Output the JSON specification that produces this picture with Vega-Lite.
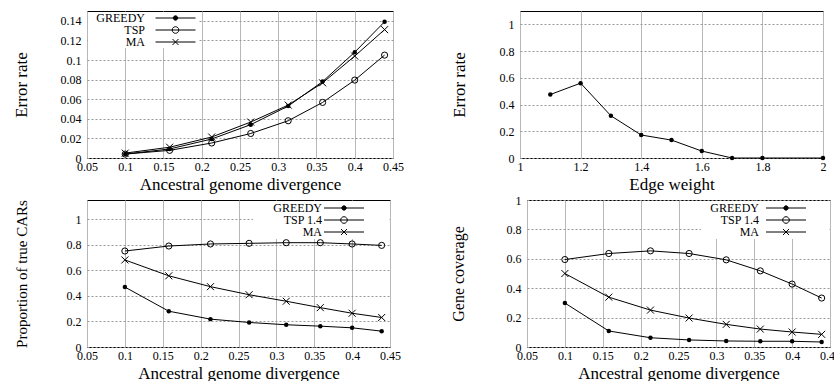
{
  "$schema": "https://vega.github.io/schema/vega-lite/v6.json",
  "autosize": {"type": "pad"},
  "padding": {"left": 11, "top": 10, "right": 2, "bottom": 0},
  "background": "white",
  "datasets": {
    "p1": [
      {"series": "GREEDY", "x": 0.1, "y": 0.004}, {"series": "GREEDY", "x": 0.158, "y": 0.0092}, {"series": "GREEDY", "x": 0.213, "y": 0.0194}, {"series": "GREEDY", "x": 0.264, "y": 0.034}, {"series": "GREEDY", "x": 0.313, "y": 0.053}, {"series": "GREEDY", "x": 0.358, "y": 0.078}, {"series": "GREEDY", "x": 0.4, "y": 0.108}, {"series": "GREEDY", "x": 0.439, "y": 0.139},
      {"series": "TSP", "x": 0.1, "y": 0.004}, {"series": "TSP", "x": 0.158, "y": 0.0078}, {"series": "TSP", "x": 0.213, "y": 0.0153}, {"series": "TSP", "x": 0.264, "y": 0.025}, {"series": "TSP", "x": 0.313, "y": 0.038}, {"series": "TSP", "x": 0.358, "y": 0.0567}, {"series": "TSP", "x": 0.4, "y": 0.0795}, {"series": "TSP", "x": 0.439, "y": 0.105},
      {"series": "MA", "x": 0.1, "y": 0.005}, {"series": "MA", "x": 0.158, "y": 0.011}, {"series": "MA", "x": 0.213, "y": 0.0214}, {"series": "MA", "x": 0.264, "y": 0.0367}, {"series": "MA", "x": 0.313, "y": 0.054}, {"series": "MA", "x": 0.358, "y": 0.0767}, {"series": "MA", "x": 0.4, "y": 0.104}, {"series": "MA", "x": 0.439, "y": 0.131}
    ],
    "p2": [
      {"series": "GREEDY", "x": 1.1, "y": 0.475}, {"series": "GREEDY", "x": 1.2, "y": 0.56}, {"series": "GREEDY", "x": 1.3, "y": 0.316}, {"series": "GREEDY", "x": 1.4, "y": 0.172}, {"series": "GREEDY", "x": 1.5, "y": 0.134}, {"series": "GREEDY", "x": 1.6, "y": 0.052}, {"series": "GREEDY", "x": 1.7, "y": 0}, {"series": "GREEDY", "x": 1.8, "y": 0}, {"series": "GREEDY", "x": 2.0, "y": 0}
    ],
    "p3": [
      {"series": "GREEDY", "x": 0.1, "y": 0.469}, {"series": "GREEDY", "x": 0.158, "y": 0.28}, {"series": "GREEDY", "x": 0.213, "y": 0.218}, {"series": "GREEDY", "x": 0.264, "y": 0.192}, {"series": "GREEDY", "x": 0.313, "y": 0.174}, {"series": "GREEDY", "x": 0.358, "y": 0.163}, {"series": "GREEDY", "x": 0.4, "y": 0.15}, {"series": "GREEDY", "x": 0.439, "y": 0.124},
      {"series": "TSP 1.4", "x": 0.1, "y": 0.751}, {"series": "TSP 1.4", "x": 0.158, "y": 0.79}, {"series": "TSP 1.4", "x": 0.213, "y": 0.806}, {"series": "TSP 1.4", "x": 0.264, "y": 0.811}, {"series": "TSP 1.4", "x": 0.313, "y": 0.816}, {"series": "TSP 1.4", "x": 0.358, "y": 0.816}, {"series": "TSP 1.4", "x": 0.4, "y": 0.806}, {"series": "TSP 1.4", "x": 0.439, "y": 0.795},
      {"series": "MA", "x": 0.1, "y": 0.681}, {"series": "MA", "x": 0.158, "y": 0.557}, {"series": "MA", "x": 0.213, "y": 0.472}, {"series": "MA", "x": 0.264, "y": 0.409}, {"series": "MA", "x": 0.313, "y": 0.358}, {"series": "MA", "x": 0.358, "y": 0.308}, {"series": "MA", "x": 0.4, "y": 0.264}, {"series": "MA", "x": 0.439, "y": 0.231}
    ],
    "p4": [
      {"series": "GREEDY", "x": 0.1, "y": 0.299}, {"series": "GREEDY", "x": 0.158, "y": 0.109}, {"series": "GREEDY", "x": 0.213, "y": 0.063}, {"series": "GREEDY", "x": 0.264, "y": 0.048}, {"series": "GREEDY", "x": 0.313, "y": 0.041}, {"series": "GREEDY", "x": 0.358, "y": 0.039}, {"series": "GREEDY", "x": 0.4, "y": 0.039}, {"series": "GREEDY", "x": 0.439, "y": 0.034},
      {"series": "TSP 1.4", "x": 0.1, "y": 0.595}, {"series": "TSP 1.4", "x": 0.158, "y": 0.636}, {"series": "TSP 1.4", "x": 0.213, "y": 0.654}, {"series": "TSP 1.4", "x": 0.264, "y": 0.636}, {"series": "TSP 1.4", "x": 0.313, "y": 0.593}, {"series": "TSP 1.4", "x": 0.358, "y": 0.518}, {"series": "TSP 1.4", "x": 0.4, "y": 0.428}, {"series": "TSP 1.4", "x": 0.439, "y": 0.333},
      {"series": "MA", "x": 0.1, "y": 0.5}, {"series": "MA", "x": 0.158, "y": 0.339}, {"series": "MA", "x": 0.213, "y": 0.251}, {"series": "MA", "x": 0.264, "y": 0.197}, {"series": "MA", "x": 0.313, "y": 0.154}, {"series": "MA", "x": 0.358, "y": 0.122}, {"series": "MA", "x": 0.4, "y": 0.102}, {"series": "MA", "x": 0.439, "y": 0.086}
    ]
  },
  "vconcat": [
    {
      "hconcat": [
        {
          "width": 306, "height": 147,
          "data": {"name": "p1"},
          "encoding": {
            "x": {"field": "x", "type": "quantitative", "scale": {"domain": [0.05, 0.45], "nice": false, "zero": false},
                  "axis": {"values": [0.05, 0.1, 0.15, 0.2, 0.25, 0.3, 0.35, 0.4, 0.45], "format": "~g", "title": "Ancestral genome divergence"}},
            "y": {"field": "y", "type": "quantitative", "scale": {"domain": [0, 0.15], "nice": false},
                  "axis": {"values": [0, 0.02, 0.04, 0.06, 0.08, 0.1, 0.12, 0.14], "format": "~g", "title": "Error rate", "titleFontSize": 17, "titlePadding": 30}}
          },
          "layer": [
            {"mark": {"type": "line", "strokeWidth": 1},
             "encoding": {"color": {"field": "series", "type": "nominal",
               "scale": {"domain": ["GREEDY", "TSP", "MA"], "range": ["black", "black", "black"]},
               "legend": {"orient": "top-left", "title": null, "offset": 1, "padding": 0, "fillColor": "white", "rowPadding": -5, "labelFontSize": 12, "symbolSize": 64,
                 "encode": {
                   "symbols": {"update": {
                     "shape": {"signal": "datum.value === 'GREEDY' ? 'M -21.875 0 M -5 0 L 5 0 M -0.55 0 A 0.55 0.55 0 1 0 0.55 0 A 0.55 0.55 0 1 0 -0.55 0 Z' : datum.value === 'MA' ? 'M -21.875 0 M -5 0 L 5 0 M -0.75 -0.75 L 0.75 0.75 M -0.75 0.75 L 0.75 -0.75' : 'M -21.875 0 M -5 0 L 5 0 M -0.825 0 A 0.825 0.825 0 1 0 0.825 0 A 0.825 0.825 0 1 0 -0.825 0 Z'"},
                     "fill": {"signal": "datum.value === 'GREEDY' ? 'black' : 'transparent'"},
                     "stroke": {"value": "black"}, "strokeWidth": {"value": 1}, "size": {"value": 64}, "x": {"value": 87.5}, "opacity": {"value": 1}}},
                   "labels": {"update": {"x": {"value": 57}, "align": {"value": "right"}}}
                 }}}}},
            {"transform": [{"filter": "datum.series === 'GREEDY'"}], "mark": {"type": "point", "shape": "circle", "filled": true, "size": 20, "color": "black", "opacity": 1}, "encoding": {}},
            {"transform": [{"filter": "datum.series !== 'GREEDY' && datum.series !== 'MA'"}], "mark": {"type": "point", "shape": "circle", "filled": false, "size": 38, "color": "black", "strokeWidth": 1, "opacity": 1}, "encoding": {}},
            {"transform": [{"filter": "datum.series === 'MA'"}], "mark": {"type": "point", "shape": "M -1 -1 L 1 1 M -1 1 L 1 -1", "filled": false, "size": 49, "color": "black", "strokeWidth": 1, "opacity": 1}, "encoding": {}}
          ]
        },
        {
          "width": 303, "height": 147,
          "data": {"name": "p2"},
          "encoding": {
            "x": {"field": "x", "type": "quantitative", "scale": {"domain": [1, 2], "nice": false, "zero": false},
                  "axis": {"values": [1, 1.2, 1.4, 1.6, 1.8, 2], "format": "~g", "title": "Edge weight"}},
            "y": {"field": "y", "type": "quantitative", "scale": {"domain": [0, 1.1], "nice": false},
                  "axis": {"values": [0, 0.2, 0.4, 0.6, 0.8, 1], "format": "~g", "title": "Error rate", "titleFontSize": 17, "titlePadding": 31}}
          },
          "layer": [
            {"mark": {"type": "line", "strokeWidth": 1, "color": "black"}, "encoding": {}},
            {"mark": {"type": "point", "filled": true, "opacity": 1, "color": "black", "size": 20, "shape": "circle"}, "encoding": {}}
          ]
        }
      ],
      "spacing": 45,
      "bounds": "full",
      "resolve": {"scale": {"color": "independent"}, "legend": {"color": "independent"}}
    },
    {
      "hconcat": [
        {
          "width": 303, "height": 147,
          "data": {"name": "p3"},
          "encoding": {
            "x": {"field": "x", "type": "quantitative", "scale": {"domain": [0.05, 0.45], "nice": false, "zero": false},
                  "axis": {"values": [0.05, 0.1, 0.15, 0.2, 0.25, 0.3, 0.35, 0.4, 0.45], "format": "~g", "title": "Ancestral genome divergence"}},
            "y": {"field": "y", "type": "quantitative", "scale": {"domain": [0, 1.15], "nice": false},
                  "axis": {"values": [0, 0.2, 0.4, 0.6, 0.8, 1], "format": "~g", "title": "Proportion of true CARs", "titleFontSize": 15, "titlePadding": 37, "titleLimit": 400}}
          },
          "layer": [
            {"mark": {"type": "line", "strokeWidth": 1},
             "encoding": {"color": {"field": "series", "type": "nominal",
               "scale": {"domain": ["GREEDY", "TSP 1.4", "MA"], "range": ["black", "black", "black"]},
               "legend": {"orient": "top-right", "title": null, "offset": 1, "padding": 1, "fillColor": "white", "rowPadding": -5, "labelFontSize": 12, "symbolSize": 64,
                 "encode": {
                   "symbols": {"update": {
                     "shape": {"signal": "datum.value === 'GREEDY' ? 'M -22.5 0 M 10.5 0 M -5 0 L 5 0 M -0.55 0 A 0.55 0.55 0 1 0 0.55 0 A 0.55 0.55 0 1 0 -0.55 0 Z' : datum.value === 'MA' ? 'M -22.5 0 M 10.5 0 M -5 0 L 5 0 M -0.75 -0.75 L 0.75 0.75 M -0.75 0.75 L 0.75 -0.75' : 'M -22.5 0 M 10.5 0 M -5 0 L 5 0 M -0.825 0 A 0.825 0.825 0 1 0 0.825 0 A 0.825 0.825 0 1 0 -0.825 0 Z'"},
                     "fill": {"signal": "datum.value === 'GREEDY' ? 'black' : 'transparent'"},
                     "stroke": {"value": "black"}, "strokeWidth": {"value": 1}, "size": {"value": 64}, "x": {"value": 90}, "opacity": {"value": 1}}},
                   "labels": {"update": {"x": {"value": 68}, "align": {"value": "right"}}}
                 }}}}},
            {"transform": [{"filter": "datum.series === 'GREEDY'"}], "mark": {"type": "point", "shape": "circle", "filled": true, "size": 20, "color": "black", "opacity": 1}, "encoding": {}},
            {"transform": [{"filter": "datum.series !== 'GREEDY' && datum.series !== 'MA'"}], "mark": {"type": "point", "shape": "circle", "filled": false, "size": 38, "color": "black", "strokeWidth": 1, "opacity": 1}, "encoding": {}},
            {"transform": [{"filter": "datum.series === 'MA'"}], "mark": {"type": "point", "shape": "M -1 -1 L 1 1 M -1 1 L 1 -1", "filled": false, "size": 49, "color": "black", "strokeWidth": 1, "opacity": 1}, "encoding": {}}
          ]
        },
        {
          "width": 303, "height": 147,
          "data": {"name": "p4"},
          "encoding": {
            "x": {"field": "x", "type": "quantitative", "scale": {"domain": [0.05, 0.45], "nice": false, "zero": false},
                  "axis": {"values": [0.05, 0.1, 0.15, 0.2, 0.25, 0.3, 0.35, 0.4, 0.45], "format": "~g", "title": "Ancestral genome divergence"}},
            "y": {"field": "y", "type": "quantitative", "scale": {"domain": [0, 1], "nice": false},
                  "axis": {"values": [0, 0.2, 0.4, 0.6, 0.8, 1], "format": "~g", "title": "Gene coverage", "titleFontSize": 16, "titlePadding": 40}}
          },
          "layer": [
            {"mark": {"type": "line", "strokeWidth": 1},
             "encoding": {"color": {"field": "series", "type": "nominal",
               "scale": {"domain": ["GREEDY", "TSP 1.4", "MA"], "range": ["black", "black", "black"]},
               "legend": {"orient": "top-right", "title": null, "offset": 1, "padding": 1, "fillColor": "white", "rowPadding": -5, "labelFontSize": 12, "symbolSize": 64,
                 "encode": {
                   "symbols": {"update": {
                     "shape": {"signal": "datum.value === 'GREEDY' ? 'M -21 0 M 10 0 M -5 0 L 5 0 M -0.55 0 A 0.55 0.55 0 1 0 0.55 0 A 0.55 0.55 0 1 0 -0.55 0 Z' : datum.value === 'MA' ? 'M -21 0 M 10 0 M -5 0 L 5 0 M -0.75 -0.75 L 0.75 0.75 M -0.75 0.75 L 0.75 -0.75' : 'M -21 0 M 10 0 M -5 0 L 5 0 M -0.825 0 A 0.825 0.825 0 1 0 0.825 0 A 0.825 0.825 0 1 0 -0.825 0 Z'"},
                     "fill": {"signal": "datum.value === 'GREEDY' ? 'black' : 'transparent'"},
                     "stroke": {"value": "black"}, "strokeWidth": {"value": 1}, "size": {"value": 64}, "x": {"value": 84}, "opacity": {"value": 1}}},
                   "labels": {"update": {"x": {"value": 57}, "align": {"value": "right"}}}
                 }}}}},
            {"transform": [{"filter": "datum.series === 'GREEDY'"}], "mark": {"type": "point", "shape": "circle", "filled": true, "size": 20, "color": "black", "opacity": 1}, "encoding": {}},
            {"transform": [{"filter": "datum.series !== 'GREEDY' && datum.series !== 'MA'"}], "mark": {"type": "point", "shape": "circle", "filled": false, "size": 38, "color": "black", "strokeWidth": 1, "opacity": 1}, "encoding": {}},
            {"transform": [{"filter": "datum.series === 'MA'"}], "mark": {"type": "point", "shape": "M -1 -1 L 1 1 M -1 1 L 1 -1", "filled": false, "size": 49, "color": "black", "strokeWidth": 1, "opacity": 1}, "encoding": {}}
          ]
        }
      ],
      "spacing": 48,
      "bounds": "full",
      "resolve": {"scale": {"color": "independent"}, "legend": {"color": "independent"}}
    }
  ],
  "spacing": 0,
  "resolve": {"scale": {"color": "independent"}, "legend": {"color": "independent"}},
  "config": {
    "font": "Liberation Serif",
    "view": {"stroke": "black", "strokeWidth": 1},
    "axis": {"labelFont": "Liberation Serif", "labelFontSize": 12, "labelColor": "black", "titleFont": "Liberation Serif", "titleFontWeight": "normal", "titleColor": "black", "domain": false, "ticks": false, "tickSize": 0, "gridOpacity": 1, "labelFlush": false, "labelOverlap": false},
    "axisX": {"gridColor": "#b8b8b8", "gridWidth": 1, "labelPadding": 3, "titleFontSize": 17, "titlePadding": 4},
    "axisY": {"gridColor": "#999999", "gridDash": [2, 2], "labelPadding": 6},
    "legend": {"labelFont": "Liberation Serif", "labelColor": "black"}
  }
}
